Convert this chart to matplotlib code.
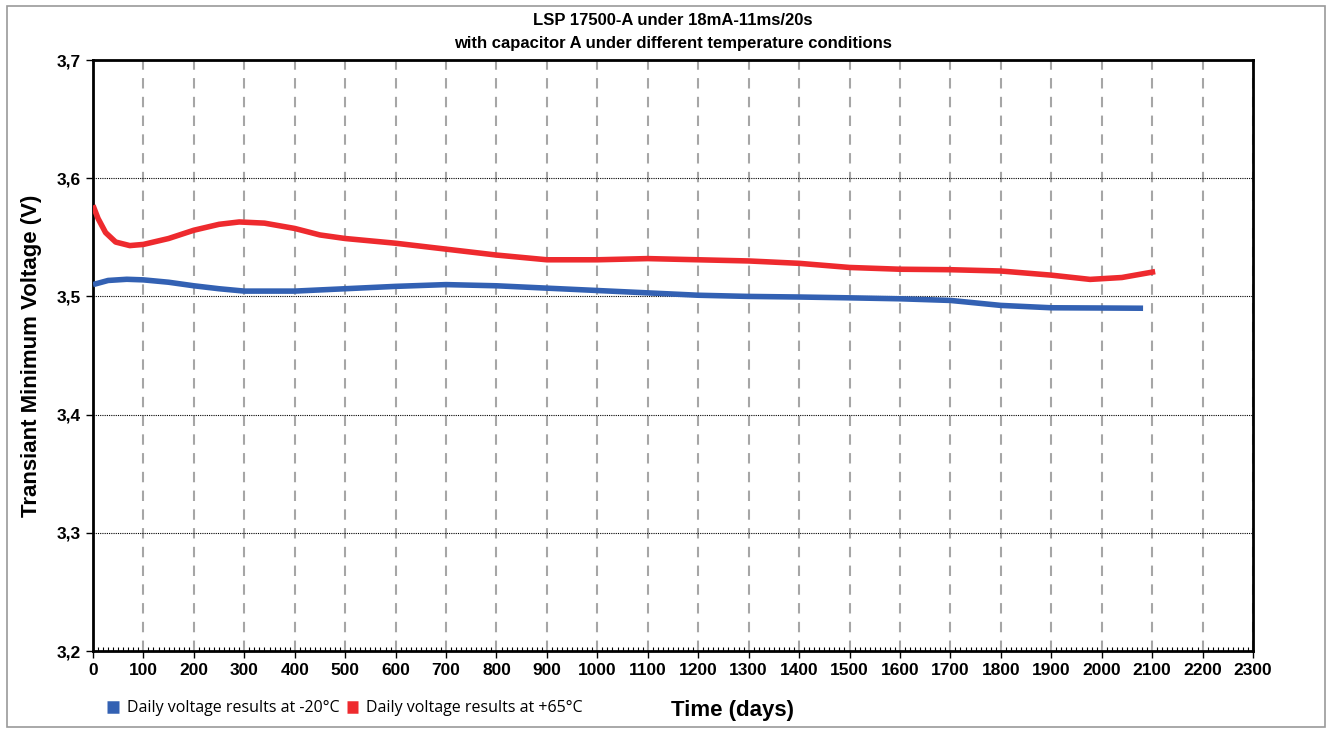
import matplotlib.pyplot as plt
import matplotlib.patches as patches
from matplotlib.ticker import MultipleLocator, FuncFormatter

# -20°C series (days, volts)
days_cold = [0, 30, 67, 100, 150, 200, 250, 300, 400, 500, 600, 700, 800, 900,
             1000, 1100, 1200, 1300, 1400, 1500, 1600, 1700, 1800, 1900, 2000, 2082]
volt_cold = [3.510, 3.5135, 3.5145, 3.514, 3.512, 3.509, 3.5065, 3.5045, 3.5045,
             3.5065, 3.5085, 3.5100, 3.5090, 3.5070, 3.5050, 3.5030, 3.5010, 3.5000,
             3.4995, 3.4988, 3.4980, 3.4966, 3.4924, 3.4904, 3.4902, 3.4900]

# +65°C series
days_hot = [0, 10, 25, 45, 73, 100, 150, 200, 250, 290, 340, 400, 450, 500, 600,
            700, 800, 900, 1000, 1100, 1200, 1300, 1400, 1500, 1600, 1700, 1800,
            1900, 1977, 2040, 2106]
volt_hot = [3.577, 3.566, 3.554, 3.546, 3.543, 3.544, 3.549, 3.556, 3.561, 3.563,
            3.562, 3.5575, 3.552, 3.549, 3.545, 3.540, 3.535, 3.531, 3.531, 3.532,
            3.531, 3.530, 3.528, 3.5245, 3.523, 3.5226, 3.5215, 3.518, 3.5144,
            3.5160, 3.521]

fig = plt.figure(figsize=(13.32, 7.31), dpi=100)
ax = fig.add_axes([0.0698, 0.1094, 0.8709, 0.8085])

fig.patches.append(patches.Rectangle((0.005, 0.006), 0.99, 0.986, transform=fig.transFigure,
                                     fill=False, edgecolor='#9a9a9a', linewidth=1.2))

ax.plot(days_cold, volt_cold, color='#3361B3', linewidth=4, solid_capstyle='butt',
        label='Daily voltage results at -20°C', zorder=3)
ax.plot(days_hot, volt_hot, color='#EE2A2E', linewidth=4, solid_capstyle='butt',
        label='Daily voltage results at +65°C', zorder=3)

ax.set_xlim(0, 2300)
ax.set_ylim(3.2, 3.7)
ax.xaxis.set_major_locator(MultipleLocator(100))
ax.xaxis.set_minor_locator(MultipleLocator(10))
ax.yaxis.set_major_locator(MultipleLocator(0.1))
ax.yaxis.set_major_formatter(FuncFormatter(lambda v, p: f"{v:.1f}".replace('.', ',')))

ax.grid(axis='x', which='major', color='#A6A6A6', linestyle=(0, (5, 4)), linewidth=1.5)
ax.grid(axis='y', which='major', color='black', linestyle=(0, (1, 1)), linewidth=0.8)

for s in ax.spines.values():
    s.set_linewidth(2)
ax.tick_params(axis='both', which='major', direction='out', length=5, width=1,
               labelsize=12.5)
ax.tick_params(axis='x', which='minor', direction='in', length=3, width=0.8)
ax.tick_params(axis='y', which='minor', length=0)
for lab in ax.get_xticklabels() + ax.get_yticklabels():
    lab.set_fontweight('bold')
    lab.set_fontfamily('Liberation Sans')

ax.set_title('LSP 17500-A under 18mA-11ms/20s\nwith capacitor A under different temperature conditions',
             fontsize=12, fontweight='bold', family='Liberation Sans', pad=9, linespacing=1.6)
ax.set_ylabel('Transiant Minimum Voltage (V)', fontsize=16, fontweight='bold',
              family='Liberation Sans')
ax.yaxis.set_label_coords(-0.044, 0.5)
ax.set_xlabel('Time (days)', fontsize=16, fontweight='bold', family='Liberation Sans')
ax.xaxis.set_label_coords(0.551, -0.083)

leg = ax.legend(loc='lower left', bbox_to_anchor=(0.0, -0.135), ncol=2, frameon=False,
                handlelength=0.7, handleheight=0.7, handletextpad=0.5, columnspacing=0.5,
                prop={'family': 'Open Sans', 'size': 11.5})
for h in leg.legend_handles:
    h.set_linewidth(9)

fig.savefig('out.png', dpi=100)
